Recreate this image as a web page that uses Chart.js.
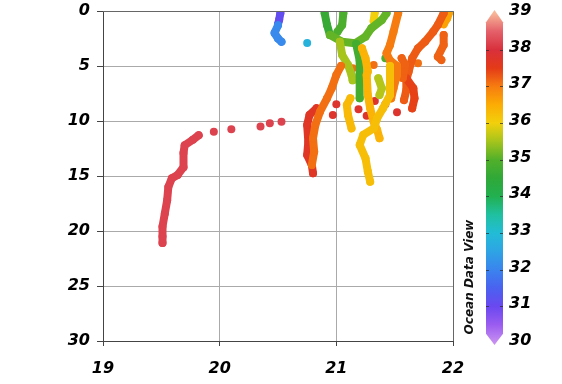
<!DOCTYPE html>
<html>
<head>
<meta charset="utf-8">
<script src="https://cdn.jsdelivr.net/npm/chart.js@4.4.1/dist/chart.umd.min.js"></script>
<style>
  html, body { margin: 0; padding: 0; background: #fff; }
  #wrap { width: 562px; height: 384px; }
</style>
</head>
<body>
<div id="wrap"><canvas id="odv"></canvas></div>
<script>
// TRACKS: [x, depth] pairs, one colour value per track
const trackWest = [[19.82, 11.3], [19.77, 11.7], [19.70, 12.2], [19.69, 12.9], [19.69, 14.2], [19.64, 14.9],
    [19.59, 15.2], [19.56, 16.0], [19.55, 17.2], [19.53, 18.4], [19.51, 19.6], [19.51, 20.5], [19.51, 21.1]];
const trackPurple = [[20.52, 0.2], [20.51, 0.8], [20.50, 1.2]];
const trackBlue = [[20.50, 1.3], [20.47, 2.0], [20.50, 2.5], [20.53, 2.8]];
const trackGreenA = [[20.90, 0.2], [20.92, 1.27], [20.945, 2.18]];
const trackGreenB = [[21.06, 0.2], [21.05, 1.27], [21.01, 1.88]];
const trackBand = [[20.945, 2.18], [21.05, 2.79], [21.16, 2.94], [21.25, 2.33], [21.30, 1.57], [21.39, 0.82], [21.43, 0.2]];
const trackGreenC = [[21.17, 3.0], [21.20, 4.5], [21.20, 5.82], [21.20, 7.94]];
const trackLime = [[21.03, 2.79], [21.05, 4.0], [21.10, 4.9], [21.13, 5.8], [21.14, 6.3]];
const trackLime2 = [[21.36, 6.12], [21.39, 7.03], [21.37, 7.64]];
const trackYellowTop = [[21.33, 0.1], [21.32, 0.9]];
const trackYellowMain = [[21.22, 3.39], [21.25, 4.3], [21.27, 5.5], [21.26, 5.82], [21.27, 7.64], [21.29, 8.85],
    [21.32, 10.06], [21.35, 10.82], [21.37, 11.57]];
const trackYellowLeft = [[21.12, 7.94], [21.09, 8.55], [21.10, 9.45], [21.13, 10.67]];
const trackYellowB = [[21.46, 5.0], [21.46, 5.82], [21.46, 7.64], [21.40, 8.85], [21.35, 9.76], [21.32, 10.67],
    [21.23, 11.27], [21.20, 12.18], [21.25, 13.39], [21.27, 14.6], [21.29, 15.52]];
const trackOrangeDiag = [[21.04, 5.0], [21.00, 5.82], [20.96, 7.03], [20.92, 7.94], [20.86, 9.15], [20.82, 10.36],
    [20.80, 11.57], [20.81, 12.79], [20.79, 14.0]];
const trackRed = [[20.83, 8.85], [20.77, 9.45], [20.75, 10.36], [20.76, 11.88], [20.75, 13.09], [20.79, 14.0], [20.80, 14.75]];
const trackOrangeA = [[21.53, 0.2], [21.49, 1.88], [21.46, 3.09], [21.43, 3.85], [21.46, 4.5], [21.52, 5.0],
    [21.52, 5.82], [21.49, 7.03], [21.47, 7.94]];
const trackOrangeB = [[21.56, 4.3], [21.59, 4.9], [21.57, 6.1]];
const trackOrangeC = [[21.92, 0.2], [21.87, 1.27], [21.83, 1.88], [21.76, 2.79], [21.70, 3.39], [21.65, 4.3],
    [21.62, 5.5], [21.60, 6.27], [21.60, 7.2], [21.58, 8.1]];
const trackRedOrange = [[21.60, 6.12], [21.66, 7.03], [21.67, 7.94], [21.65, 8.85]];
const trackOrangeD = [[21.92, 2.18], [21.92, 3.09], [21.87, 4.15], [21.90, 4.45]];
const trackYellowNE = [[21.97, 0.06], [21.95, 0.66], [21.92, 1.2]];

// single stations
const westDots = [[19.95, 10.97], [20.10, 10.75], [20.35, 10.5], [20.43, 10.2], [20.53, 10.06]];
const redDots = [[21.00, 8.48], [20.97, 9.45], [21.19, 8.94], [21.26, 9.52], [21.33, 8.18], [21.42, 8.48], [21.52, 9.21]];
const orangeDots = [[21.14, 5.2], [21.32, 4.9], [21.70, 4.75]];
const cyanDots = [[20.75, 2.9]];
const greenDots = [[21.42, 4.3]];

// order = draw order (first drawn on top)
const tracks = [trackOrangeDiag, trackRed, trackWest, trackYellowB, trackYellowMain, trackYellowLeft, trackGreenC,
    trackLime, trackLime2, trackBand, trackGreenA, trackGreenB, trackYellowTop, trackOrangeA, trackOrangeB,
    trackRedOrange, trackOrangeC, trackOrangeD, trackYellowNE, trackBlue, trackPurple];
const trackValues = [37.1, 37.7, 38.2, 36.25, 36.4, 36.3, 34.8, 35.5, 35.6, 35.1, 34.6, 34.9, 36.0, 37.0, 37.2,
    37.45, 37.25, 37.2, 36.6, 32.1, 31.1];
const dotSets = [westDots, redDots, orangeDots, cyanDots, greenDots];
const dotValues = [38.2, 37.8, 37.1, 32.8, 34.9];

const xTicks = [19, 20, 21, 22];
const yTicks = [0, 5, 10, 15, 20, 25, 30];
const cbTicks = [30, 31, 32, 33, 34, 35, 36, 37, 38, 39];

// ODV-like colour map
const cmapStops = [
    [30, '#c890f0'], [30.5, '#9a5cf0'], [31, '#6a48f0'], [31.5, '#4a62f0'], [32, '#3a84ee'], [32.5, '#2ea4e4'],
    [33, '#22bcd6'], [33.5, '#20c0a0'], [34, '#22b050'], [34.5, '#30a838'], [35, '#52b02a'], [35.5, '#a6c41c'],
    [36, '#f2d00c'], [36.5, '#fcac04'], [37, '#f67c10'], [37.5, '#e43a18'], [38, '#d8303c'], [38.5, '#e4606a'],
    [39, '#f8b898']
];

function hexRgb(h) {
    return [parseInt(h.substr(1, 2), 16), parseInt(h.substr(3, 2), 16), parseInt(h.substr(5, 2), 16)];
}

function cmap(v) {
    for (let i = 0; i < cmapStops.length - 1; i++) {
        const [v0, c0] = cmapStops[i];
        const [v1, c1] = cmapStops[i + 1];
        if (v <= v1 || i === cmapStops.length - 2) {
            const t = Math.max(0, Math.min(1, (v - v0) / (v1 - v0)));
            const a = hexRgb(c0), b = hexRgb(c1);
            const rgb = a.map((k, j) => Math.round(k + (b[j] - k) * t));
            return 'rgb(' + rgb.join(',') + ')';
        }
    }
}

const toPts = arr => arr.map(([x, y]) => ({ x, y }));

const datasets = [];
tracks.forEach((t, i) => {
    const c = cmap(trackValues[i]);
    datasets.push({
        data: toPts(t),
        showLine: true,
        borderColor: c,
        backgroundColor: c,
        borderWidth: 8,
        borderCapStyle: 'round',
        borderJoinStyle: 'round',
        pointRadius: 4,
        pointBorderWidth: 0,
        order: i
    });
});
dotSets.forEach((d, i) => {
    const c = cmap(dotValues[i]);
    datasets.push({
        data: toPts(d),
        showLine: false,
        backgroundColor: c,
        borderColor: c,
        pointRadius: 4,
        pointBorderWidth: 0,
        order: tracks.length + i
    });
});

const tickFont = { family: 'DejaVu Sans', size: 16, weight: 'bold', style: 'italic' };

// fixed axis boxes so the plot sits where the original does
const fitLeft = s => { s.width = 103; s.paddingTop = 2; s.paddingBottom = 2; };
const fitRight = s => { s.width = 109; s.paddingTop = 2; s.paddingBottom = 2; };
const fitBottom = s => { s.height = 43; };

// frame, colour bar and the ODV label
const extras = {
    id: 'extras',
    afterDraw(chart) {
        const { ctx, chartArea: a } = chart;
        const cb = chart.scales.cb;
        ctx.save();
        ctx.strokeStyle = '#666';
        ctx.lineWidth = 1;
        ctx.beginPath();
        ctx.moveTo(a.left, a.top + 0.5);
        ctx.lineTo(a.right + 0.5, a.top + 0.5);
        ctx.lineTo(a.right + 0.5, a.bottom);
        ctx.stroke();

        // colour bar
        const x0 = a.right + 33, x1 = a.right + 50, xm = (x0 + x1) / 2;
        const off = 2;
        const yTop = cb.getPixelForValue(39) + off - 3;
        const yBot = cb.getPixelForValue(30) + off + 2;
        const yb1 = cb.getPixelForValue(38.75) + off;
        const yb2 = cb.getPixelForValue(30.25) + off;
        const g = ctx.createLinearGradient(0, cb.getPixelForValue(30) + off, 0, cb.getPixelForValue(39) + off);
        cmapStops.forEach(([v, c]) => g.addColorStop((v - 30) / 9, c));
        ctx.fillStyle = g;
        ctx.beginPath();
        ctx.moveTo(xm, yTop);
        ctx.lineTo(x1, yb1);
        ctx.lineTo(x1, yb2);
        ctx.lineTo(xm, yBot);
        ctx.lineTo(x0, yb2);
        ctx.lineTo(x0, yb1);
        ctx.closePath();
        ctx.fill();
        ctx.strokeStyle = 'rgba(40,40,40,0.7)';
        cbTicks.slice(1, -1).forEach(v => {
            const y = Math.round(cb.getPixelForValue(v) + off) + 0.5;
            ctx.beginPath();
            ctx.moveTo(x0, y); ctx.lineTo(x0 + 3, y);
            ctx.moveTo(x1 - 3, y); ctx.lineTo(x1, y);
            ctx.stroke();
        });

        ctx.translate(a.right + 17, a.bottom - 64);
        ctx.rotate(-Math.PI / 2);
        ctx.fillStyle = '#111';
        ctx.font = 'italic bold 12px "DejaVu Sans"';
        ctx.textAlign = 'center';
        ctx.textBaseline = 'middle';
        ctx.fillText('Ocean Data View', 0, 0);
        ctx.restore();
    }
};

new Chart(document.getElementById('odv'), {
    type: 'scatter',
    data: { datasets },
    plugins: [extras],
    options: {
        responsive: true,
        maintainAspectRatio: false,
        animation: false,
        layout: { padding: { left: 0, right: 0, top: 11, bottom: 0 } },
        plugins: {
            legend: { display: false },
            tooltip: { enabled: false }
        },
        scales: {
            x: {
                type: 'linear',
                min: 19,
                max: 22,
                afterBuildTicks: s => { s.ticks = xTicks.map(v => ({ value: v })); },
                afterFit: fitBottom,
                ticks: { color: '#000', font: tickFont, padding: 13, maxRotation: 0 },
                grid: { color: '#aaa', tickColor: '#444', tickLength: 5 },
                border: { color: '#444' }
            },
            y: {
                type: 'linear',
                min: 0,
                max: 30,
                reverse: true,
                afterBuildTicks: s => { s.ticks = yTicks.map(v => ({ value: v })); },
                afterFit: fitLeft,
                ticks: { color: '#000', font: tickFont, padding: 7 },
                grid: { color: '#aaa', tickColor: '#444', tickLength: 6 },
                border: { color: '#444' }
            },
            cb: {
                type: 'linear',
                axis: 'y',
                position: 'right',
                min: 30,
                max: 39,
                afterBuildTicks: s => { s.ticks = cbTicks.map(v => ({ value: v })); },
                afterFit: fitRight,
                ticks: { color: '#000', font: tickFont, padding: 56 },
                grid: { display: false, drawTicks: false, drawOnChartArea: false },
                border: { display: false }
            }
        }
    }
});
</script>
</body>
</html>
